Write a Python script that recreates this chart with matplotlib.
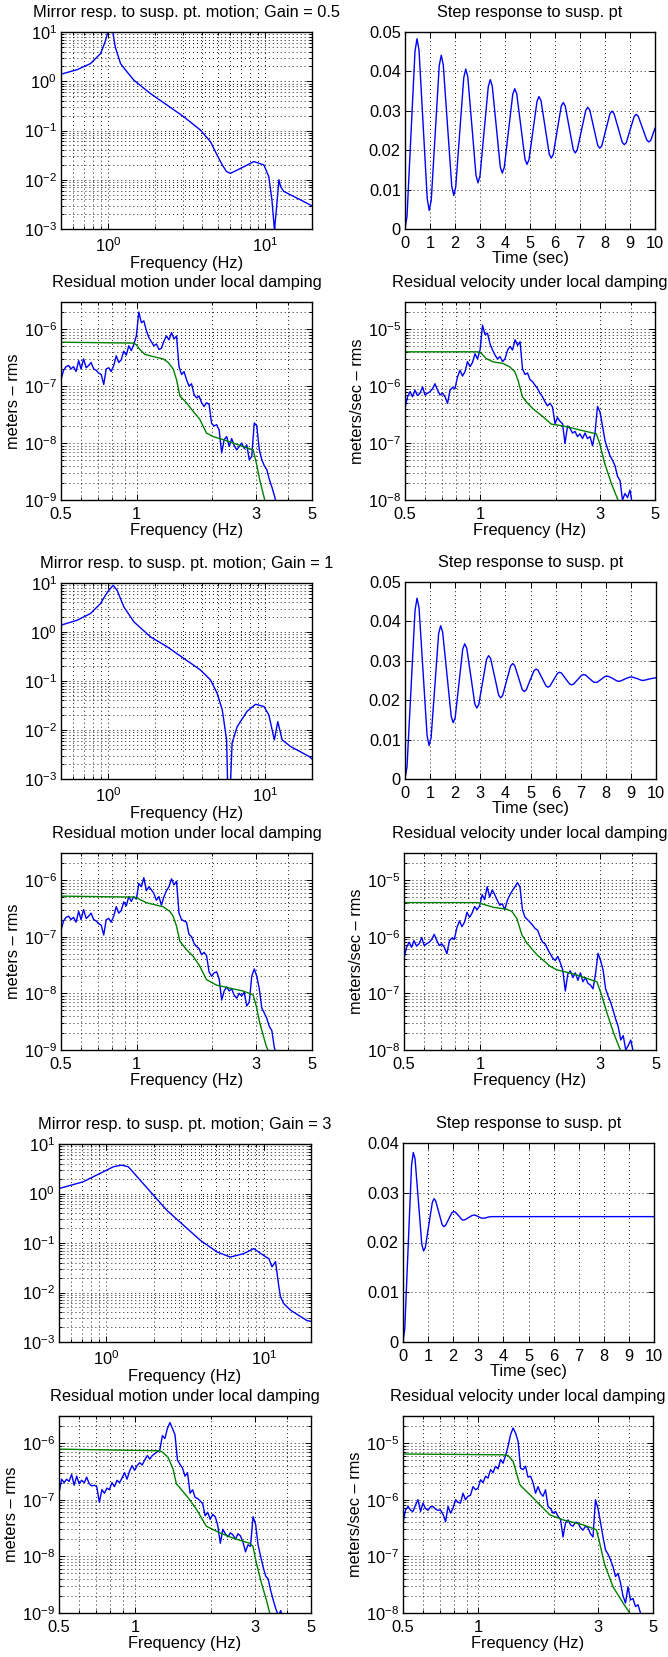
import numpy as np
import matplotlib
matplotlib.use('Agg')
import matplotlib.pyplot as plt
from matplotlib.ticker import (FixedLocator, FixedFormatter, NullFormatter,
                               LogLocator, LogFormatterSciNotation)

plt.rcParams['font.family'] = ['Liberation Sans', 'DejaVu Sans']
plt.rcParams['mathtext.fontset'] = 'custom'
plt.rcParams['mathtext.rm'] = 'Liberation Sans'
plt.rcParams['mathtext.it'] = 'Liberation Sans:italic'
plt.rcParams['mathtext.bf'] = 'Liberation Sans:bold'
FS = 11.8
plt.rcParams['font.size'] = FS

# ---------------- data ----------------
gains = ['0.5', '1', '3']

# mirror response to suspension point motion
mirror_freq_g05 = [0.5, 0.634, 0.771, 0.893, 0.938, 0.962, 1.0, 1.03, 1.07, 1.11, 1.2, 1.32, 1.46, 1.86,
                   2.38, 3.04, 3.88, 4.5, 4.96, 5.35, 5.7, 6.04, 7.0, 8.51, 9.86, 10.6, 11.1, 11.5, 11.55,
                   11.6, 11.9, 12.3, 12.6, 13.2, 16.9, 20.2]
mirror_mag_g05 = [1.39, 1.72, 2.28, 3.63, 5.35, 6.76, 10.5, 40.0, 10.0, 4.95, 2.28, 1.55, 1.05, 0.563,
                  0.327, 0.19, 0.102, 0.0592, 0.0316, 0.020, 0.0146, 0.0135, 0.017, 0.0234, 0.020, 0.0116,
                  0.0039, 0.001, 0.0002, 0.0012, 0.0029, 0.0100, 0.0073, 0.0058, 0.0039, 0.0029]
mirror_freq_g1 = [0.5, 0.634, 0.771, 0.893, 0.96, 1.01, 1.076, 1.14, 1.26, 1.46, 1.86, 2.38, 3.04, 3.88,
                  4.5, 4.96, 5.35, 5.70, 5.88, 6.18, 6.66, 7.7, 8.73, 9.86, 10.6, 11.5, 12.1, 12.9, 14.6,
                  19.1, 20.2]
mirror_mag_g1 = [1.38, 1.74, 2.38, 3.8, 5.6, 7.1, 8.97, 7.1, 3.25, 1.61, 0.798, 0.499, 0.289, 0.168,
                 0.105, 0.0562, 0.0257, 0.0063, 0.0001, 0.0054, 0.0117, 0.024, 0.0335, 0.0302, 0.0204,
                 0.0063, 0.0148, 0.0063, 0.0046, 0.0029, 0.0025]
mirror_freq_g3 = [0.5, 0.711, 0.91, 1.106, 1.25, 1.38, 1.64, 2.42, 3.95, 5.05, 6.14, 7.47, 8.65, 10.0,
                  10.8, 11.3, 11.9, 12.5, 12.8, 13.4, 14.8, 18.9, 20.2]
mirror_mag_g3 = [1.26, 1.72, 2.54, 3.46, 3.74, 3.46, 1.86, 0.46, 0.114, 0.066, 0.052, 0.061, 0.077, 0.056,
                 0.048, 0.033, 0.042, 0.0129, 0.0082, 0.006, 0.0044, 0.0027, 0.0026]

# step response to suspension point
step_time_g05 = [0, 0.08, 0.24, 0.40, 0.48, 0.56, 0.725, 0.89, 0.97, 1.05, 1.21, 1.37, 1.45, 1.53, 1.70,
                 1.87, 1.95, 2.03, 2.19, 2.35, 2.43, 2.51, 2.675, 2.84, 2.92, 3.00, 3.165, 3.33, 3.41,
                 3.49, 3.65, 3.81, 3.89, 3.97, 4.14, 4.31, 4.39, 4.47, 4.635, 4.80, 4.88, 4.96, 5.12,
                 5.28, 5.36, 5.44, 5.605, 5.77, 5.85, 5.93, 6.09, 6.25, 6.33, 6.41, 6.57, 6.73, 6.81,
                 6.89, 7.06, 7.23, 7.31, 7.39, 7.55, 7.71, 7.79, 7.87, 8.035, 8.20, 8.28, 8.36, 8.525,
                 8.69, 8.77, 8.85, 9.01, 9.17, 9.25, 9.33, 9.50, 9.67, 9.75, 9.83, 10.0]
step_resp_g05 = [0, 0.0032, 0.0242, 0.0451, 0.0483, 0.0454, 0.0265, 0.0076, 0.0047, 0.0073, 0.0244,
                 0.0415, 0.0441, 0.0417, 0.0263, 0.0109, 0.0085, 0.0107, 0.0246, 0.0384, 0.0406, 0.0387,
                 0.0262, 0.0136, 0.0117, 0.0135, 0.0248, 0.0361, 0.0379, 0.0363, 0.0261, 0.0158, 0.0142,
                 0.0156, 0.0249, 0.0342, 0.0356, 0.0343, 0.0260, 0.0177, 0.0164, 0.0176, 0.0250, 0.0324,
                 0.0336, 0.0326, 0.0258, 0.0190, 0.0180, 0.0189, 0.0251, 0.0312, 0.0321, 0.0312, 0.0257,
                 0.0202, 0.0193, 0.0201, 0.0251, 0.0301, 0.0309, 0.0302, 0.0257, 0.0212, 0.0205, 0.0211,
                 0.0252, 0.0293, 0.0299, 0.0293, 0.0257, 0.0220, 0.0214, 0.0219, 0.0253, 0.0286, 0.0291,
                 0.0286, 0.0256, 0.0226, 0.0221, 0.0225, 0.0256]
step_time_g1 = [0, 0.08, 0.24, 0.40, 0.48, 0.56, 0.72, 0.88, 0.96, 1.04, 1.19, 1.34, 1.42, 1.50, 1.67,
                1.84, 1.92, 2.00, 2.15, 2.30, 2.38, 2.46, 2.62, 2.78, 2.86, 2.94, 3.095, 3.25, 3.33, 3.41,
                3.57, 3.73, 3.81, 3.89, 4.05, 4.21, 4.29, 4.37, 4.52, 4.67, 4.75, 4.83, 4.985, 5.14, 5.22,
                5.30, 5.46, 5.62, 5.70, 5.775, 5.925, 6.075, 6.15, 6.23, 6.395, 6.56, 6.64, 6.72, 6.875,
                7.03, 7.11, 7.19, 7.35, 7.51, 7.59, 7.665, 7.815, 7.965, 8.04, 8.12, 8.28, 8.44, 8.52,
                8.60, 8.765, 8.93, 9.01, 9.09, 9.245, 9.40, 9.48, 9.56, 9.74, 10.0]
step_resp_g1 = [0, 0.0031, 0.0230, 0.0428, 0.0459, 0.0434, 0.0272, 0.0110, 0.0085, 0.0105, 0.0237,
                0.0369, 0.0389, 0.0373, 0.0266, 0.0159, 0.0143, 0.0156, 0.0243, 0.0330, 0.0343, 0.0332,
                0.0262, 0.0191, 0.0180, 0.0189, 0.0247, 0.0304, 0.0313, 0.0306, 0.0260, 0.0213, 0.0206,
                0.0212, 0.0250, 0.0287, 0.0293, 0.0288, 0.0258, 0.0227, 0.0222, 0.0226, 0.0251, 0.0275,
                0.0279, 0.0276, 0.0256, 0.0236, 0.0233, 0.0236, 0.0252, 0.0268, 0.0271, 0.0269, 0.0255,
                0.0241, 0.0239, 0.0241, 0.0252, 0.0263, 0.0265, 0.0264, 0.0255, 0.0246, 0.0245, 0.0246,
                0.0253, 0.0260, 0.0261, 0.0260, 0.0255, 0.0249, 0.0248, 0.0249, 0.0254, 0.0258, 0.0259,
                0.0258, 0.0255, 0.0251, 0.0250, 0.0251, 0.0254, 0.0257]
step_time_g3 = [0, 0.07, 0.205, 0.34, 0.41, 0.48, 0.615, 0.75, 0.82, 0.89, 1.03, 1.17, 1.24, 1.30, 1.43,
                1.56, 1.62, 1.69, 1.82, 1.95, 2.02, 2.085, 2.215, 2.345, 2.41, 2.48, 2.61, 2.74, 2.81,
                2.87, 3.00, 3.13, 3.19, 3.26, 3.39, 3.52, 3.59, 4.5, 10.0]
step_resp_g3 = [0, 0.0026, 0.0191, 0.0355, 0.0381, 0.0368, 0.0282, 0.0196, 0.0183, 0.0190, 0.0236,
                0.0281, 0.0288, 0.0284, 0.0260, 0.0236, 0.0232, 0.0234, 0.0247, 0.0260, 0.0262, 0.0261,
                0.0254, 0.0246, 0.0245, 0.0246, 0.0250, 0.0254, 0.0255, 0.0255, 0.0252, 0.0249, 0.0249,
                0.0249, 0.0251, 0.0252, 0.0252, 0.0252, 0.0252]

# spectra (blue): common frequency bins
psd_freq = [0.500, 0.512, 0.524, 0.536, 0.548, 0.561, 0.574, 0.588, 0.601, 0.615,
            0.630, 0.644, 0.659, 0.675, 0.690, 0.706, 0.723, 0.740, 0.757, 0.775,
            0.792, 0.811, 0.830, 0.849, 0.869, 0.889, 0.910, 0.931, 0.953, 0.975,
            0.998, 1.021, 1.045, 1.069, 1.094, 1.120, 1.146, 1.172, 1.200, 1.228,
            1.256, 1.286, 1.316, 1.346, 1.378, 1.410, 1.443, 1.476, 1.511, 1.546,
            1.581, 1.618, 1.656, 1.695, 1.734, 1.774, 1.816, 1.858, 1.901, 1.945,
            1.991, 2.037, 2.085, 2.133, 2.183, 2.234, 2.286, 2.339, 2.393, 2.449,
            2.506, 2.564, 2.624, 2.685, 2.748, 2.812, 2.877, 2.944, 3.013, 3.083,
            3.155, 3.228, 3.303, 3.380, 3.459, 3.540, 3.622, 3.706, 3.793, 3.881,
            3.971, 4.064, 4.158, 4.255, 4.354, 4.456, 4.560]

motion_g05 = [1.3e-7, 1.9e-7, 2.2e-7, 2.3e-7, 2.0e-7, 2.2e-7, 1.8e-7, 2.8e-7, 2.0e-7, 3.0e-7,
              2.1e-7, 2.3e-7, 2.6e-7, 2.0e-7, 1.9e-7, 1.7e-7, 1.6e-7, 1.07e-7, 2.0e-7, 2.1e-7,
              1.8e-7, 2.3e-7, 3.4e-7, 2.6e-7, 2.9e-7, 4.1e-7, 3.5e-7, 5.1e-7, 4.2e-7, 5.4e-7,
              7.6e-7, 2.0e-6, 1.3e-6, 1.4e-6, 9.5e-7, 7.1e-7, 6.0e-7, 5.1e-7, 5.5e-7, 4.4e-7,
              4.6e-7, 6.2e-7, 7.6e-7, 6.5e-7, 8.7e-7, 6.7e-7, 7.6e-7, 2.2e-7, 1.6e-7, 1.8e-7,
              1.3e-7, 1.0e-7, 1.1e-7, 7.1e-8, 6.2e-8, 6.7e-8, 5.1e-8, 4.4e-8, 5.1e-8, 4.8e-8,
              2.2e-8, 2.0e-8, 2.1e-8, 1.7e-8, 6.7e-9, 1.15e-8, 1.3e-8, 8.7e-9, 1.2e-8, 9.0e-9,
              7.6e-9, 8.7e-9, 1.0e-8, 8.0e-9, 9.3e-9, 5.1e-9, 5.8e-9, 2.25e-8, 2.0e-8, 7.6e-9,
              5.1e-9, 4.0e-9, 3.4e-9, 2.3e-9, 1.7e-9, 1.2e-9, 8e-10]
motion_g1 = [1.3e-7, 1.9e-7, 2.2e-7, 2.3e-7, 2.0e-7, 2.2e-7, 1.8e-7, 2.8e-7, 2.0e-7, 3.0e-7,
             2.1e-7, 2.3e-7, 2.6e-7, 2.0e-7, 1.9e-7, 1.7e-7, 1.6e-7, 1.07e-7, 2.0e-7, 2.1e-7,
             1.8e-7, 2.3e-7, 3.4e-7, 2.6e-7, 2.9e-7, 4.1e-7, 3.5e-7, 5.1e-7, 4.2e-7, 5.1e-7,
             4.6e-7, 8.7e-7, 7.6e-7, 1.1e-6, 6.5e-7, 7.6e-7, 6.7e-7, 5.8e-7, 4.4e-7, 5.1e-7,
             3.6e-7, 5.1e-7, 6.5e-7, 7.6e-7, 1.05e-6, 8.2e-7, 9.5e-7, 2.6e-7, 2.0e-7, 1.9e-7,
             1.8e-7, 1.1e-7, 1.0e-7, 7.6e-8, 6.7e-8, 6.2e-8, 4.8e-8, 5.3e-8, 4.6e-8, 2.4e-8,
             2.0e-8, 2.3e-8, 2.4e-8, 1.8e-8, 7.6e-9, 1.1e-8, 1.3e-8, 1.1e-8, 1.2e-8, 9.3e-9,
             8.2e-9, 1.0e-8, 9.0e-9, 1.05e-8, 6.0e-9, 7.0e-9, 2.0e-8, 2.7e-8, 2.0e-8, 1.2e-8,
             5.5e-9, 4.5e-9, 3.6e-9, 2.6e-9, 2.2e-9, 1.1e-9, 8e-10]
motion_g3 = [1.3e-7, 2.3e-7, 2.0e-7, 2.3e-7, 2.1e-7, 2.8e-7, 1.8e-7, 2.6e-7, 1.9e-7, 2.2e-7,
             2.0e-7, 2.5e-7, 1.9e-7, 1.75e-7, 1.8e-7, 1.7e-7, 9.0e-8, 1.5e-7, 1.3e-7, 1.6e-7,
             1.5e-7, 2.0e-7, 1.7e-7, 2.2e-7, 2.0e-7, 2.4e-7, 3.0e-7, 2.3e-7, 3.2e-7, 4.0e-7,
             3.3e-7, 4.0e-7, 4.5e-7, 4.1e-7, 5.0e-7, 6.0e-7, 5.2e-7, 6.0e-7, 6.5e-7, 7.0e-7,
             7.5e-7, 1.35e-6, 1.2e-6, 1.8e-6, 2.3e-6, 1.8e-6, 1.4e-6, 5.0e-7, 4.2e-7, 3.6e-7,
             2.6e-7, 3.0e-7, 1.3e-7, 1.5e-7, 1.1e-7, 1.05e-7, 9.5e-8, 8.5e-8, 5.2e-8, 6.0e-8,
             4.5e-8, 5.5e-8, 5.0e-8, 3.5e-8, 1.7e-8, 3.0e-8, 2.5e-8, 2.2e-8, 2.6e-8, 2.4e-8,
             2.0e-8, 2.5e-8, 2.3e-8, 1.8e-8, 1.2e-8, 1.6e-8, 1.5e-8, 5.0e-8, 3.7e-8, 1.6e-8,
             1.0e-8, 6.5e-9, 4.5e-9, 4.0e-9, 2.5e-9, 1.7e-9, 1.2e-9, 9e-10, 1.1e-9, 7e-10]

velocity_g05 = [4.1e-7, 6.5e-7, 8.0e-7, 6.5e-7, 8.5e-7, 6.8e-7, 7.5e-7, 9.7e-7, 7.0e-7, 7.5e-7,
                8.0e-7, 9.0e-7, 1.1e-6, 8.5e-7, 7.0e-7, 7.5e-7, 6.5e-7, 5.0e-7, 8.5e-7, 9.5e-7,
                9.0e-7, 1.45e-6, 1.9e-6, 1.5e-6, 1.8e-6, 2.7e-6, 2.2e-6, 2.6e-6, 3.7e-6, 3.0e-6,
                4.3e-6, 1.18e-5, 8.0e-6, 8.5e-6, 5.5e-6, 4.3e-6, 3.5e-6, 3.0e-6, 3.3e-6, 2.7e-6,
                3.0e-6, 4.3e-6, 5.0e-6, 4.3e-6, 6.5e-6, 5.2e-6, 6.0e-6, 2.0e-6, 1.6e-6, 1.7e-6,
                1.3e-6, 1.2e-6, 1.04e-6, 9.0e-7, 7.5e-7, 6.5e-7, 5.3e-7, 4.5e-7, 5.0e-7, 4.3e-7,
                2.2e-7, 2.8e-7, 2.4e-7, 2.2e-7, 9.8e-8, 2.0e-7, 1.8e-7, 1.5e-7, 1.6e-7, 1.3e-7,
                1.45e-7, 1.2e-7, 1.5e-7, 1.2e-7, 1.3e-7, 9.0e-8, 1.5e-7, 4.4e-7, 3.5e-7, 2.0e-7,
                1.1e-7, 8.0e-8, 6.0e-8, 5.0e-8, 4.0e-8, 2.6e-8, 2.2e-8, 1.0e-8, 1.3e-8, 1.1e-8,
                1.5e-8, 8e-9]
velocity_g1 = [4.1e-7, 6.5e-7, 8.0e-7, 6.5e-7, 8.5e-7, 6.8e-7, 7.5e-7, 9.7e-7, 7.0e-7, 7.5e-7,
               8.0e-7, 9.0e-7, 1.1e-6, 8.5e-7, 7.0e-7, 7.5e-7, 6.5e-7, 5.0e-7, 8.5e-7, 9.5e-7,
               9.0e-7, 1.45e-6, 1.9e-6, 1.5e-6, 1.8e-6, 2.7e-6, 2.2e-6, 2.6e-6, 3.4e-6, 3.0e-6,
               3.5e-6, 5.5e-6, 4.5e-6, 7.6e-6, 5.0e-6, 6.7e-6, 5.5e-6, 4.4e-6, 3.6e-6, 3.8e-6,
               3.0e-6, 4.4e-6, 5.5e-6, 6.5e-6, 7.6e-6, 9.0e-6, 7.5e-6, 3.0e-6, 2.2e-6, 2.0e-6,
               1.8e-6, 1.6e-6, 1.4e-6, 1.3e-6, 1.0e-6, 8.0e-7, 7.5e-7, 6.0e-7, 5.0e-7, 4.2e-7,
               3.8e-7, 4.5e-7, 3.5e-7, 2.6e-7, 1.1e-7, 2.2e-7, 2.5e-7, 1.9e-7, 2.3e-7, 1.7e-7,
               2.3e-7, 1.6e-7, 1.9e-7, 1.5e-7, 1.4e-7, 1.2e-7, 2.2e-7, 5.1e-7, 3.8e-7, 2.6e-7,
               1.2e-7, 9.0e-8, 7.0e-8, 5.0e-8, 3.5e-8, 2.6e-8, 1.5e-8, 1.8e-8, 1.0e-8, 1.2e-8,
               1.5e-8, 9e-9]
velocity_g3 = [3.9e-7, 6.6e-7, 7.6e-7, 6.5e-7, 6.2e-7, 8.0e-7, 1.0e-6, 6.2e-7, 8.7e-7, 7.0e-7,
               6.5e-7, 7.5e-7, 7.6e-7, 6.8e-7, 6.5e-7, 6.6e-7, 5.5e-7, 4.1e-7, 7.6e-7, 5.8e-7,
               7.0e-7, 1.0e-6, 9.0e-7, 8.7e-7, 1.3e-6, 1.0e-6, 1.15e-6, 1.2e-6, 1.7e-6, 1.5e-6,
               1.6e-6, 2.25e-6, 2.0e-6, 2.6e-6, 2.4e-6, 3.4e-6, 3.0e-6, 3.9e-6, 3.5e-6, 5.1e-6,
               4.4e-6, 6.0e-6, 8.7e-6, 1.4e-5, 1.84e-5, 1.5e-5, 1.07e-5, 3.6e-6, 3.4e-6, 3.9e-6,
               2.5e-6, 2.6e-6, 2.0e-6, 1.3e-6, 1.7e-6, 1.3e-6, 1.15e-6, 1.5e-6, 7.6e-7, 7.0e-7,
               5.8e-7, 6.2e-7, 5.1e-7, 4.5e-7, 2.2e-7, 3.9e-7, 4.4e-7, 3.6e-7, 3.4e-7, 4.0e-7,
               3.9e-7, 3.2e-7, 2.9e-7, 3.4e-7, 3.2e-7, 2.5e-7, 2.2e-7, 1.0e-6, 7.0e-7, 4.0e-7,
               2.2e-7, 1.3e-7, 1.1e-7, 8.7e-8, 6.6e-8, 4.4e-8, 5.0e-8, 3.4e-8, 2.0e-8, 1.5e-8,
               2.9e-8, 1.7e-8, 1.8e-8, 1.3e-8, 1.4e-8, 1.0e-8, 8e-9]

# cumulative rms (green)
rms_freq_g05 = [0.500, 0.970, 0.994, 1.031, 1.080, 1.165, 1.278, 1.337, 1.399, 1.443, 1.488, 1.581,
                1.681, 1.787, 1.899, 2.019, 2.212, 2.425, 2.658, 2.913, 3.003, 3.096, 3.241, 3.393]
rms_motion_g05 = [5.9e-7, 5.7e-7, 5.4e-7, 4.4e-7, 3.6e-7, 3.3e-7, 3.0e-7, 2.6e-7, 2.0e-7, 1.3e-7,
                  6.7e-8, 5.1e-8, 3.6e-8, 2.6e-8, 1.5e-8, 1.3e-8, 1.15e-8, 1.0e-8, 8.7e-9, 7.6e-9,
                  4.4e-9, 2.25e-9, 1.0e-9, 6e-10]
rms_freq_g1 = [0.500, 0.970, 1.000, 1.095, 1.278, 1.355, 1.399, 1.443, 1.488, 1.581, 1.681, 1.787,
               1.899, 2.080, 2.425, 2.658, 2.913, 3.003, 3.096, 3.290, 3.340, 3.450]
rms_motion_g1 = [5.2e-7, 5.0e-7, 4.86e-7, 3.97e-7, 3.37e-7, 2.8e-7, 2.3e-7, 1.53e-7, 8.3e-8, 5.9e-8,
                 4.5e-8, 3.0e-8, 1.75e-8, 1.4e-8, 1.2e-8, 1.1e-8, 9.4e-9, 5.8e-9, 3.0e-9, 1.15e-9,
                 1.0e-9, 6e-10]
rms_freq_g3 = [0.500, 1.255, 1.293, 1.354, 1.417, 1.461, 1.506, 1.625, 1.754, 1.922, 2.171, 2.452,
               2.854, 2.943, 3.034, 3.177, 3.325, 3.430, 3.550]
rms_motion_g3 = [7.8e-7, 7.3e-7, 6.8e-7, 5.6e-7, 3.5e-7, 1.9e-7, 1.64e-7, 1.09e-7, 6.8e-8, 3.4e-8,
                 2.6e-8, 2.1e-8, 1.7e-8, 1.5e-8, 7.7e-9, 3.4e-9, 1.7e-9, 1.0e-9, 6e-10]

rms_vfreq_g05 = [0.500, 0.979, 1.010, 1.057, 1.124, 1.233, 1.311, 1.373, 1.416, 1.474, 1.529, 1.625,
                 1.782, 1.923, 2.143, 2.499, 2.913, 3.003, 3.146, 3.344, 3.555, 3.700]
rms_velocity_g05 = [4.0e-6, 4.0e-6, 3.75e-6, 3.05e-6, 2.67e-6, 2.5e-6, 2.18e-6, 1.8e-6, 1.27e-6,
                    6.5e-7, 5.3e-7, 4.0e-7, 2.9e-7, 2.15e-7, 2.0e-7, 1.7e-7, 1.45e-7, 9.9e-8, 4.4e-8,
                    1.96e-8, 1.0e-8, 7e-9]
rms_vfreq_g1 = [0.500, 0.980, 1.018, 1.132, 1.279, 1.339, 1.402, 1.468, 1.537, 1.684, 1.901, 2.022,
                2.354, 2.914, 3.051, 3.195, 3.394, 3.609, 3.750]
rms_velocity_g1 = [4.0e-6, 4.0e-6, 3.8e-6, 3.3e-6, 3.05e-6, 2.8e-6, 2.1e-6, 1.08e-6, 7.7e-7, 4.8e-7,
                   3.0e-7, 2.6e-7, 2.2e-7, 1.6e-7, 8.9e-8, 4.5e-8, 2.0e-8, 1.0e-8, 7e-9]
rms_vfreq_g3 = [0.500, 1.258, 1.318, 1.380, 1.422, 1.467, 1.512, 1.608, 1.710, 1.818, 1.933, 2.185,
                2.626, 2.969, 3.061, 3.206, 3.460, 3.795, 4.035, 4.200]
rms_velocity_g3 = [6.4e-6, 6.2e-6, 6.0e-6, 4.7e-6, 2.95e-6, 1.84e-6, 1.6e-6, 1.23e-6, 9.3e-7, 7.1e-7,
                   5.4e-7, 4.4e-7, 3.6e-7, 2.95e-7, 1.7e-7, 7.1e-8, 2.9e-8, 1.5e-8, 1.0e-8, 8e-9]

res_xticks = [0.5, 1, 3, 5]
res_xticklabels = ['0.5', '1', '3', '5']
res_xminor = [0.6, 0.7, 0.8, 0.9, 2, 4]
step_xticks = [0, 1, 2, 3, 4, 5, 6, 7, 8, 9, 10]

# ---------------- figure ----------------
W, H = 668, 1657
fig = plt.figure(figsize=(W / 100, H / 100), dpi=100)


def add_ax(x0, y0, x1, y1):
    return fig.add_axes([x0 / W, 1 - y1 / H, (x1 - x0) / W, (y1 - y0) / H])


BLUE = (0, 0, 1)
GREEN = (0, 0.5, 0)
GRID = dict(linestyle=(0, (1.0, 3.1)), color='0.1', linewidth=0.7)
LW = 1.0
TPAD = 11


def style(ax):
    for s in ax.spines.values():
        s.set_linewidth(1.0)
    ax.tick_params(which='both', direction='in', top=True, right=True, width=0.7,
                   labelsize=FS)
    ax.tick_params(which='major', length=4.5)
    ax.tick_params(which='minor', length=2.5)
    ax.tick_params(axis='x', pad=5)
    ax.tick_params(axis='y', pad=3)


def mirror(ax, f, m, gain):
    ax.plot(f, m, color=BLUE, lw=LW)
    ax.set_xscale('log')
    ax.set_yscale('log')
    ax.set_xlim(0.5, 20)
    ax.set_ylim(1e-3, 1e1)
    for axis in (ax.xaxis, ax.yaxis):
        axis.set_major_locator(LogLocator(base=10, numticks=10))
        axis.set_minor_locator(LogLocator(base=10, subs=np.arange(2, 10), numticks=10))
        axis.set_major_formatter(LogFormatterSciNotation())
        axis.set_minor_formatter(NullFormatter())
    ax.grid(True, which='both', **GRID)
    style(ax)
    ax.set_title('Mirror resp. to susp. pt. motion; Gain = ' + gain, fontsize=FS, pad=TPAD)
    ax.set_xlabel('Frequency (Hz)', fontsize=FS, labelpad=1)


def step(ax, t, y, ymax):
    ax.plot(t, y, color=BLUE, lw=LW)
    ax.set_xlim(0, 10)
    ax.set_ylim(0, ymax)
    ax.xaxis.set_major_locator(FixedLocator(step_xticks))
    yt = [0, 0.01, 0.02, 0.03, 0.04, 0.05][:int(round(ymax / 0.01)) + 1]
    ax.yaxis.set_major_locator(FixedLocator(yt))
    ax.yaxis.set_major_formatter(FixedFormatter(['%g' % v for v in yt]))
    ax.grid(True, which='major', **GRID)
    style(ax)
    ax.set_title('Step response to susp. pt', fontsize=FS, pad=TPAD)
    ax.set_xlabel('Time (sec)', fontsize=FS, labelpad=0)


def residual(ax, bf, bv, gf, gv, ylim, title, ylabel):
    ax.plot(bf, bv, color=BLUE, lw=LW)
    ax.plot(gf, gv, color=GREEN, lw=LW)
    ax.set_xscale('log')
    ax.set_yscale('log')
    ax.set_xlim(0.5, 5)
    ax.set_ylim(*ylim)
    ax.xaxis.set_major_locator(FixedLocator(res_xticks))
    ax.xaxis.set_major_formatter(FixedFormatter(res_xticklabels))
    ax.xaxis.set_minor_locator(FixedLocator(res_xminor))
    ax.xaxis.set_minor_formatter(NullFormatter())
    ax.yaxis.set_major_locator(LogLocator(base=10, numticks=10))
    ax.yaxis.set_minor_locator(LogLocator(base=10, subs=np.arange(2, 10), numticks=10))
    ax.yaxis.set_major_formatter(LogFormatterSciNotation())
    ax.yaxis.set_minor_formatter(NullFormatter())
    ax.grid(True, which='both', **GRID)
    style(ax)
    ax.set_title(title, fontsize=FS, pad=TPAD)
    ax.set_xlabel('Frequency (Hz)', fontsize=FS, labelpad=1)
    ax.set_ylabel(ylabel, fontsize=FS, labelpad=2)


mirror_data = [(mirror_freq_g05, mirror_mag_g05), (mirror_freq_g1, mirror_mag_g1),
               (mirror_freq_g3, mirror_mag_g3)]
step_data = [(step_time_g05, step_resp_g05, 0.05), (step_time_g1, step_resp_g1, 0.05),
             (step_time_g3, step_resp_g3, 0.04)]
motion_data = [(motion_g05, rms_freq_g05, rms_motion_g05), (motion_g1, rms_freq_g1, rms_motion_g1),
               (motion_g3, rms_freq_g3, rms_motion_g3)]
velocity_data = [(velocity_g05, rms_vfreq_g05, rms_velocity_g05),
                 (velocity_g1, rms_vfreq_g1, rms_velocity_g1),
                 (velocity_g3, rms_vfreq_g3, rms_velocity_g3)]

# pixel boxes (x0, y0, x1, y1)
boxes_top = [((61, 32, 312, 229), (405, 32, 655, 229)),
             ((61, 583, 312, 779), (405, 582, 656, 779)),
             ((59, 1144, 311, 1342), (403, 1143, 654, 1342))]
boxes_bot = [((61, 302, 312, 500), (405, 302, 655, 500)),
             ((61, 853, 312, 1050), (404, 853, 656, 1050)),
             ((59, 1416, 311, 1613), (403, 1416, 653, 1613))]

for i in range(3):
    (bl, br) = boxes_top[i]
    ax = add_ax(*bl)
    mirror(ax, mirror_data[i][0], mirror_data[i][1], gains[i])
    ax = add_ax(*br)
    step(ax, *step_data[i])

    (bl, br) = boxes_bot[i]
    mv, gf, gv = motion_data[i]
    ax = add_ax(*bl)
    residual(ax, psd_freq[:len(mv)], mv, gf, gv, (1e-9, 3e-6),
             'Residual motion under local damping', 'meters \u2013 rms')
    vv, gf, gv = velocity_data[i]
    ax = add_ax(*br)
    residual(ax, psd_freq[:len(vv)], vv, gf, gv, (1e-8, 3e-5),
             'Residual velocity under local damping', 'meters/sec \u2013 rms')

fig.savefig('out.png', dpi=100)
